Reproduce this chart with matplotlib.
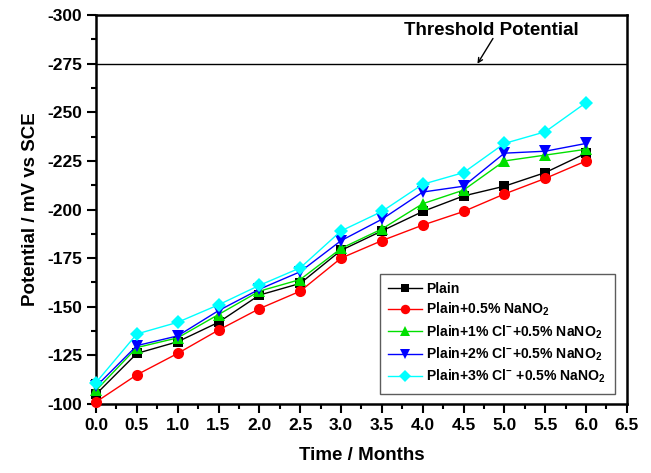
import numpy as np
import matplotlib
matplotlib.use('Agg')
import matplotlib.pyplot as plt
from matplotlib.ticker import MultipleLocator

plt.rcParams['font.family'] = ['Liberation Sans', 'DejaVu Sans']
plt.rcParams['font.weight'] = 'bold'
plt.rcParams['axes.unicode_minus'] = False
plt.rcParams['mathtext.fontset'] = 'custom'
plt.rcParams['mathtext.rm'] = 'Liberation Sans:bold'
plt.rcParams['mathtext.bf'] = 'Liberation Sans:bold'

# time (months)
months = [0.0, 0.5, 1.0, 1.5, 2.0, 2.5, 3.0, 3.5, 4.0, 4.5, 5.0, 5.5, 6.0]

# potential (mV vs SCE)
plain = [-105, -126, -132, -142, -156, -162, -179, -189, -199, -207, -212, -219, -229]
plain_nitrite = [-101, -115, -126, -138, -149, -158, -175, -184, -192, -199, -208, -216, -225]
cl1_nitrite = [-107, -129, -134, -146, -158, -164, -180, -190, -203, -210, -225, -228, -231]
cl2_nitrite = [-109, -130, -135, -148, -159, -168, -184, -195, -209, -212, -229, -230, -234]
cl3_nitrite = [-111, -136, -142, -151, -161, -170, -189, -199, -213, -219, -234, -240, -255]

threshold = -275

labels = ['Plain',
          r'Plain+0.5% NaNO$_\mathbf{2}$',
          r'Plain+1% Cl$^\mathbf{-}$+0.5% NaNO$_\mathbf{2}$',
          r'Plain+2% Cl$^\mathbf{-}$+0.5% NaNO$_\mathbf{2}$',
          r'Plain+3% Cl$^\mathbf{-}$ +0.5% NaNO$_\mathbf{2}$']
series = [plain, plain_nitrite, cl1_nitrite, cl2_nitrite, cl3_nitrite]
colors = ['black', 'red', '#00e000', 'blue', 'cyan']
markers = ['s', 'o', '^', 'v', 'D']
msizes = [7, 8, 8, 8, 7]

fig = plt.figure(figsize=(6.51, 4.73), dpi=100)
ax = fig.add_axes([0.1475, 0.146, 0.8155, 0.822])

for y, lab, c, m, ms in zip(series, labels, colors, markers, msizes):
    ax.plot(months, y, '-', color=c, marker=m, markersize=ms, lw=1.0,
            markeredgewidth=0, label=lab, clip_on=False, zorder=3)

# threshold line with its label
ax.axhline(threshold, color='black', lw=1.0)
ax.text(4.84, -292, 'Threshold Potential', ha='center', va='center',
        fontsize=13.5, fontweight='bold')
ax.annotate('', xy=(4.67, threshold), xytext=(4.86, -288),
            arrowprops=dict(arrowstyle='->', color='black', lw=1.0,
                            shrinkA=0, shrinkB=0, mutation_scale=8))

ax.set_xlim(0, 6.5)
ax.set_ylim(-100, -300)
ax.xaxis.set_major_locator(MultipleLocator(0.5))
ax.xaxis.set_minor_locator(MultipleLocator(0.25))
ax.yaxis.set_major_locator(MultipleLocator(25))
ax.yaxis.set_minor_locator(MultipleLocator(12.5))
ax.xaxis.set_major_formatter(matplotlib.ticker.FormatStrFormatter('%.1f'))
ax.tick_params(which='both', direction='out', width=1.5, top=False, right=False,
               labelsize=12.5)
ax.tick_params(which='major', length=6.5)
ax.tick_params(which='minor', length=3.5)
for s in ax.spines.values():
    s.set_linewidth(1.8)

ax.set_xlabel('Time / Months', fontsize=13.5, fontweight='bold', labelpad=10)
ax.set_ylabel('Potential / mV vs SCE', fontsize=13.5, fontweight='bold', labelpad=6)

leg = ax.legend(loc='lower right', bbox_to_anchor=(0.99, 0.008), fontsize=10.1,
                frameon=True, fancybox=False, handlelength=2.4, markerscale=0.85,
                borderpad=0.6, labelspacing=0.35, handletextpad=0.3)
leg.get_frame().set_edgecolor('#333333')
leg.get_frame().set_linewidth(1.0)
for t in leg.get_texts():
    t.set_fontweight('bold')

fig.savefig('out.png', dpi=100)
